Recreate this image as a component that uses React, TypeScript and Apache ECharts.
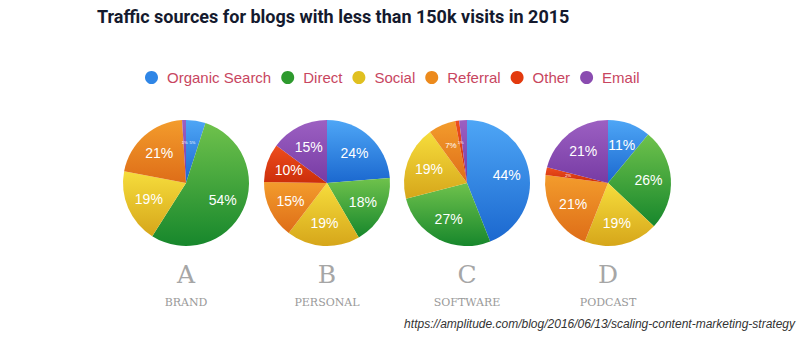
import React, { useEffect, useRef } from "react";
import * as echarts from "echarts";

const sources = ["Organic Search", "Direct", "Social", "Referral", "Other", "Email"];
const letters = ["A", "B", "C", "D"];
const segments = ["BRAND", "PERSONAL", "SOFTWARE", "PODCAST"];
const brandValues = [5, 54, 19, 21, 0, 1];
const personalValues = [24, 18, 19, 15, 10, 15];
const softwareValues = [44, 27, 19, 7, 1, 2];
const podcastValues = [11, 26, 19, 21, 2, 21];
const allValues = [brandValues, personalValues, softwareValues, podcastValues];

const gradTop = ["#4ea6f6", "#6fc24c", "#f6dd3c", "#f39c2c", "#ee4e1e", "#9c60c2"];
const gradBottom = ["#1b68cf", "#17872c", "#d6a61a", "#de6d18", "#cc2e0a", "#773ba4"];
const legendColors = ["#2f86e6", "#2e9a2e", "#e0c020", "#ec8a1c", "#e33a0e", "#8a4cb0"];

const centersX = [186, 327, 467, 608];
const centerY = 183;
const R = 63;

export default function App() {
  const ref = useRef<HTMLDivElement>(null);
  useEffect(() => {
    if (!ref.current) return;
    const chart = echarts.init(ref.current, null, { renderer: "svg" });
    const series: any[] = [];
    allValues.forEach((vals, i) => {
      series.push({
        type: "pie",
        center: [centersX[i], centerY],
        radius: [0, R],
        startAngle: 90,
        clockwise: true,
        label: { show: false },
        labelLine: { show: false },
        silent: true,
        emphasis: { disabled: true },
        data: vals.map((v, k) => ({
          name: sources[k],
          value: v,
          itemStyle: {
            color: new echarts.graphic.LinearGradient(0, 0, 0, 1, [
              { offset: 0, color: gradTop[k] },
              { offset: 1, color: gradBottom[k] },
            ]),
            borderWidth: 0,
          },
        })),
      });
      series.push({
        type: "pie",
        center: [centersX[i], centerY],
        radius: [12, R],
        startAngle: 90,
        clockwise: true,
        silent: true,
        emphasis: { disabled: true },
        labelLine: { show: false },
        label: {
          show: true,
          position: "inside",
          formatter: "{c}%",
          color: "#ffffff",
          fontFamily: "Liberation Sans, Arial, sans-serif",
          fontSize: 14,
        },
        data: vals.map((v, k) => ({
          name: sources[k],
          value: v,
          itemStyle: { color: "rgba(0,0,0,0)" },
          label: {
            show: v > 0,
            fontSize: v >= 10 ? 14 : v >= 7 ? 8 : 4,
          },
        })),
      });
    });

    const graphics: any[] = [
      {
        type: "text",
        left: 97,
        top: 7,
        style: {
          text: "Traffic sources for blogs with less than 150k visits in 2015",
          fontFamily: "Roboto, Noto Sans, sans-serif",
          fontWeight: "bold",
          fontSize: 18,
          fill: "#141a2e",
        },
      },
      {
        type: "text",
        right: 5,
        top: 318,
        style: {
          text: "https://amplitude.com/blog/2016/06/13/scaling-content-marketing-strategy",
          fontFamily: "Liberation Sans, Arial, sans-serif",
          fontStyle: "italic",
          fontSize: 12,
          fill: "#333333",
        },
      },
    ];
    letters.forEach((l, i) => {
      graphics.push({
        type: "text",
        x: centersX[i],
        y: 274,
        style: {
          text: l,
          align: "center",
          verticalAlign: "middle",
          fontFamily: "DejaVu Serif, serif",
          fontSize: 25,
          fill: "#a6a6a6",
        },
      });
      graphics.push({
        type: "text",
        x: centersX[i],
        y: 302,
        style: {
          text: segments[i],
          align: "center",
          verticalAlign: "middle",
          fontFamily: "DejaVu Serif, serif",
          fontSize: 11,
          fill: "#9a9a9a",
        },
      });
    });

    chart.setOption({
      animation: false,
      backgroundColor: "#ffffff",
      legend: {
        left: 140,
        top: 65,
        icon: "circle",
        itemWidth: 13,
        itemHeight: 13,
        itemGap: 10,
        selectedMode: false,
        textStyle: {
          color: "#c8465f",
          fontFamily: "Liberation Sans, Arial, sans-serif",
          fontSize: 15,
          padding: [0, 0, 0, 4],
        },
        data: sources.map((s, k) => ({ name: s, itemStyle: { color: legendColors[k] } })),
      },
      series,
      graphic: graphics,
    });
    return () => chart.dispose();
  }, []);
  return (
    <div
      ref={ref}
      style={{ position: "absolute", left: 0, top: 0, width: 800, height: 338 }}
    />
  );
}
